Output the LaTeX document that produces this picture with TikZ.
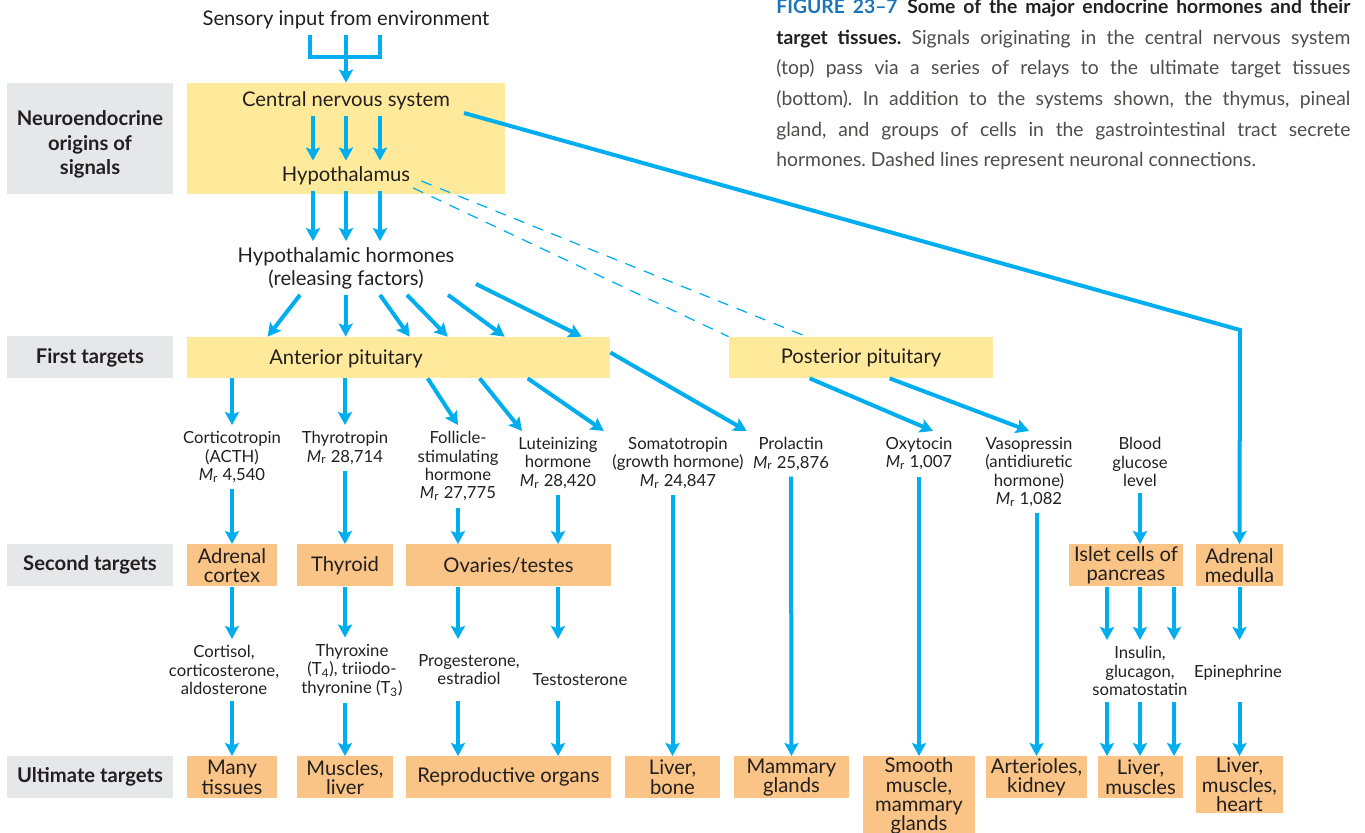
\documentclass[tikz,border=0pt]{standalone}
\usepackage{fontspec}
\setmainfont{Lato}
\usepackage{xcolor}
\usetikzlibrary{arrows.meta,calc,positioning}
\definecolor{relay}{HTML}{00AEEF}
\definecolor{neurosoft}{HTML}{FEEA9A}
\definecolor{tissuesoft}{HTML}{F9C485}
\definecolor{tierpanel}{HTML}{E6E7E8}
\definecolor{ink}{HTML}{231F20}
\definecolor{figblue}{HTML}{1B75BB}
\newcommand{\molw}[1]{\textit{M}\textsubscript{r} #1}
\frenchspacing

\begin{document}
\begin{tikzpicture}[x=0.2mm,y=-0.2mm,>={Stealth[length=2.6mm,width=2.8mm,inset=0.5mm]},font=\fontsize{11.5}{11}\selectfont,text=ink]
      \tikzstyle{tier}=[fill=tierpanel,minimum width=33.2mm,minimum height=8.4mm,align=center,font=\fontsize{11.5}{14}\selectfont\bfseries]
      \tikzstyle{gland}=[fill=neurosoft,minimum height=8.2mm,align=center]
      \tikzstyle{tissue}=[fill=tissuesoft,anchor=north,minimum height=8.4mm,inner xsep=1mm,inner ysep=0.35mm,align=center]
      \tikzstyle{msg}=[align=center,inner sep=1.2mm,font=\fontsize{9.5}{10.5}\selectfont]
      \tikzstyle{flow}=[->,draw=relay,line width=0.8mm]
      \tikzstyle{nerve}=[draw=relay,line width=0.25mm,dash pattern=on 2.2mm off 1.8mm]
      \useasboundingbox (0,0) rectangle (1365,833);
      % row labels
      \node[tier,minimum height=22.2mm,text height=15.3mm] (tierorigin) at (90,138.5) {Neuroendocrine\\origins of\\signals};
      \node[tier] (tierfirst) at (90,357.5) {First targets};
      \node[tier] (tiersecond) at (90,565) {Second targets};
      \node[tier] (tierultimate) at (90,777) {Ultimate targets};
      \node[anchor=north west,text width=114.8mm,align=justify,inner sep=0pt,text=ink!80,font=\fontsize{11}{17.4}\selectfont] (caption) at (776,-1) {%
        {\color{figblue}\bfseries FIGURE 23--7}\enspace{\color{ink}\bfseries Some of the major endocrine hormones and their\linebreak
        target tissues.} Signals originating in the central nervous system\linebreak
        (top) pass via a series of relays to the ultimate target tissues\linebreak
        (bottom). In addition to the systems shown, the thymus, pineal\linebreak
        gland, and groups of cells in the gastrointestinal tract secrete\linebreak
        hormones. Dashed lines represent neuronal connections.};
      % neuroendocrine origins
      \node (sensory) at (346,20) {Sensory input from environment};
      \node[gland,minimum width=63.6mm,minimum height=22.2mm] (cnsbox) at (346,138.5) {};
      \node (cns) at (346,101) {Central nervous system};
      \node (hypo) at (346,176) {Hypothalamus};
      \node[align=center,font=\fontsize{11.5}{13}\selectfont] (releasing) at (346,268) {Hypothalamic hormones\\(releasing factors)};
      % first targets
      \node[gland,minimum width=84.6mm] (antbox) at (398.5,357.5) {};
      \node (anterior) at (346,359) {Anterior pituitary};
      \node[gland,minimum width=52.8mm] (posterior) at (861,357.5) {Posterior pituitary};
      \node[msg,anchor=north] (acth) at (232,425) {Corticotropin\\(ACTH)\\\molw{4,540}};
      \node[msg,anchor=north] (tsh) at (345,425) {Thyrotropin\\\molw{28,714}};
      \node[msg,anchor=north] (fsh) at (458,425) {Follicle-\\stimulating\\hormone\\\molw{27,775}};
      \node[msg,anchor=north] (lh) at (558,431) {Luteinizing\\hormone\\\molw{28,420}};
      \node[msg,anchor=north] (gh) at (678,431) {Somatotropin\\(growth hormone)\\\molw{24,847}};
      \node[msg,anchor=north] (prl) at (791,431) {Prolactin\\\molw{25,876}};
      \node[msg,anchor=north] (oxt) at (919,431) {Oxytocin\\\molw{1,007}};
      \node[msg,anchor=north] (adh) at (1029,431) {Vasopressin\\(antidiuretic\\hormone)\\\molw{1,082}};
      \node[msg,anchor=north] (glucose) at (1140,431) {Blood\\glucose\\level};
      % second targets
      \node[tissue,minimum width=18mm] (adrcortex) at (232,544) {Adrenal\\cortex};
      \node[tissue,minimum width=19.2mm] (thyroid) at (345,544) {Thyroid};
      \node[tissue,minimum width=41mm] (gonads) at (508.5,544) {Ovaries/testes};
      \node[tissue,minimum width=22.8mm] (islet) at (1126,544) {Islet cells of\\pancreas};
      \node[tissue,minimum width=17.4mm] (adrmedulla) at (1239.5,544) {Adrenal\\medulla};
      \node[msg] (cortisol) at (224,670) {Cortisol,\\corticosterone,\\aldosterone};
      \node[msg] (thyroxine) at (352,670) {Thyroxine\\(T\textsubscript{4}), triiodo-\\thyronine (T\textsubscript{3})};
      \node[msg] (estradiol) at (469,669.5) {Progesterone,\\estradiol};
      \node[msg] (testo) at (580,680) {Testosterone};
      \node[msg] (insulin) at (1140,671) {Insulin,\\glucagon,\\somatostatin};
      \node[msg] (epi) at (1238,673) {Epinephrine};
      % ultimate targets
      \node[tissue,minimum width=18mm] (many) at (232,756) {Many\\tissues};
      \node[tissue,minimum width=19.2mm] (muscliver) at (345,756) {Muscles,\\liver};
      \node[tissue,minimum width=41mm] (repro) at (508.5,756) {Reproductive organs};
      \node[tissue,minimum width=19mm] (liverbone) at (672.5,756) {Liver,\\bone};
      \node[tissue,minimum width=23mm] (mammary) at (791.5,756) {Mammary\\glands};
      \node[tissue,minimum width=22.4mm] (smooth) at (919,756) {Smooth\\muscle,\\mammary\\glands};
      \node[tissue,minimum width=20.2mm] (arterioles) at (1036.5,756) {Arterioles,\\kidney};
      \node[tissue,minimum width=17mm] (livermuscle) at (1140.5,756) {Liver,\\muscles};
      \node[tissue,minimum width=17.4mm] (liverheart) at (1239.5,756) {Liver,\\muscles,\\heart};
      % signals from the top
      \draw[draw=relay,line width=0.8mm] ($(sensory.south)+(-36,0)$) -- ++(0,22) -- ++(70,0) -- ++(0,-22);
      \draw[flow] (sensory.south) -- (cnsbox.north);
      \foreach \dx in {-33,0,34} {
        \draw[flow] ($(cns.south)+(\dx,0)$) -- ($(hypo.north)+(\dx,0)$);
        \draw[flow] ($(hypo.south)+(\dx,0)$) -- ($(releasing.north)+(\dx,0)$);
      }
      \foreach \sx/\sy/\ex in {-46/0/81,0/0/159,34/0/223,61/0/261,102/0/318,130/-11/395}
        \draw[flow] ($(releasing.south)+(\sx,\sy)$) -- ($(antbox.north west)+(\ex,0)$);
      \draw[nerve] ($(hypo.east)+(5,5)$) -- ($(posterior.north west)+(78,0)$);
      \draw[nerve] ($(hypo.east)+(-3,12)$) -- (posterior.north west);
      \coordinate (medullabend) at (1240,330);
      \draw[flow] ($(cns.east)+(8,12)$) -- (medullabend) -- (adrmedulla.north);
      % pituitary hormones
      \draw[flow] (antbox.south -| acth) -- (acth.north);
      \draw[flow] (antbox.south -| tsh) -- (tsh.north);
      \draw[flow] ($(antbox.south west)+(241,0)$) -- (fsh.north);
      \draw[flow] ($(antbox.south west)+(293,0)$) -- ($(lh.north)+(-36,0)$);
      \draw[flow] ($(antbox.south west)+(341,0)$) -- (lh.north east);
      \draw[flow] ($(antbox.east)+(0,-5)$) -- (prl.north west);
      \draw[flow] ($(posterior.south west)+(81,0)$) -- ($(oxt.north)+(14,0)$);
      \draw[flow] ($(posterior.south west)+(161,0)$) -- (adh.north);
      % second targets and their hormones
      \draw[flow] (acth.south) -- (adrcortex.north);
      \draw[flow] (tsh.south) -- (thyroid.north);
      \draw[flow] (fsh.south) -- (gonads.north -| fsh);
      \draw[flow] (lh.south) -- (gonads.north -| lh);
      \draw[flow] (glucose.south) -- (islet.north -| glucose);
      \draw[flow] (adrcortex.south) -- (adrcortex.south |- cortisol.north);
      \draw[flow] (thyroid.south) -- (thyroid.south |- thyroxine.north);
      \draw[flow] (gonads.south -| fsh) -- (fsh |- cortisol.north);
      \draw[flow] (gonads.south -| lh) -- (lh |- cortisol.north);
      \foreach \dx in {-33,0,34} {
        \draw[flow] ($(islet.south -| insulin)+(\dx,0)$) -- ($(insulin.north)+(\dx,0)$);
        \draw[flow] ($(insulin.south)+(\dx,0)$) -- ($(livermuscle.north -| insulin)+(\dx,0)$);
      }
      \draw[flow] (adrmedulla.south) -- (adrmedulla.south |- insulin.north);
      % ultimate targets
      \draw[flow] (adrcortex |- cortisol.south) -- (many.north);
      \draw[flow] (thyroid |- thyroxine.south) -- (muscliver.north);
      \draw[flow] (fsh |- cortisol.south) -- (repro.north -| fsh);
      \draw[flow] (lh |- cortisol.south) -- (repro.north -| lh);
      \draw[flow] (adrmedulla |- insulin.south) -- (liverheart.north);
      \draw[flow] (gh.south -| liverbone) -- (liverbone.north);
      \draw[flow] (prl.south) -- (mammary.north);
      \draw[flow] (oxt.south) -- (smooth.north);
      \draw[flow] (adh.south -| arterioles) -- (arterioles.north);
    \end{tikzpicture}
\end{document}
